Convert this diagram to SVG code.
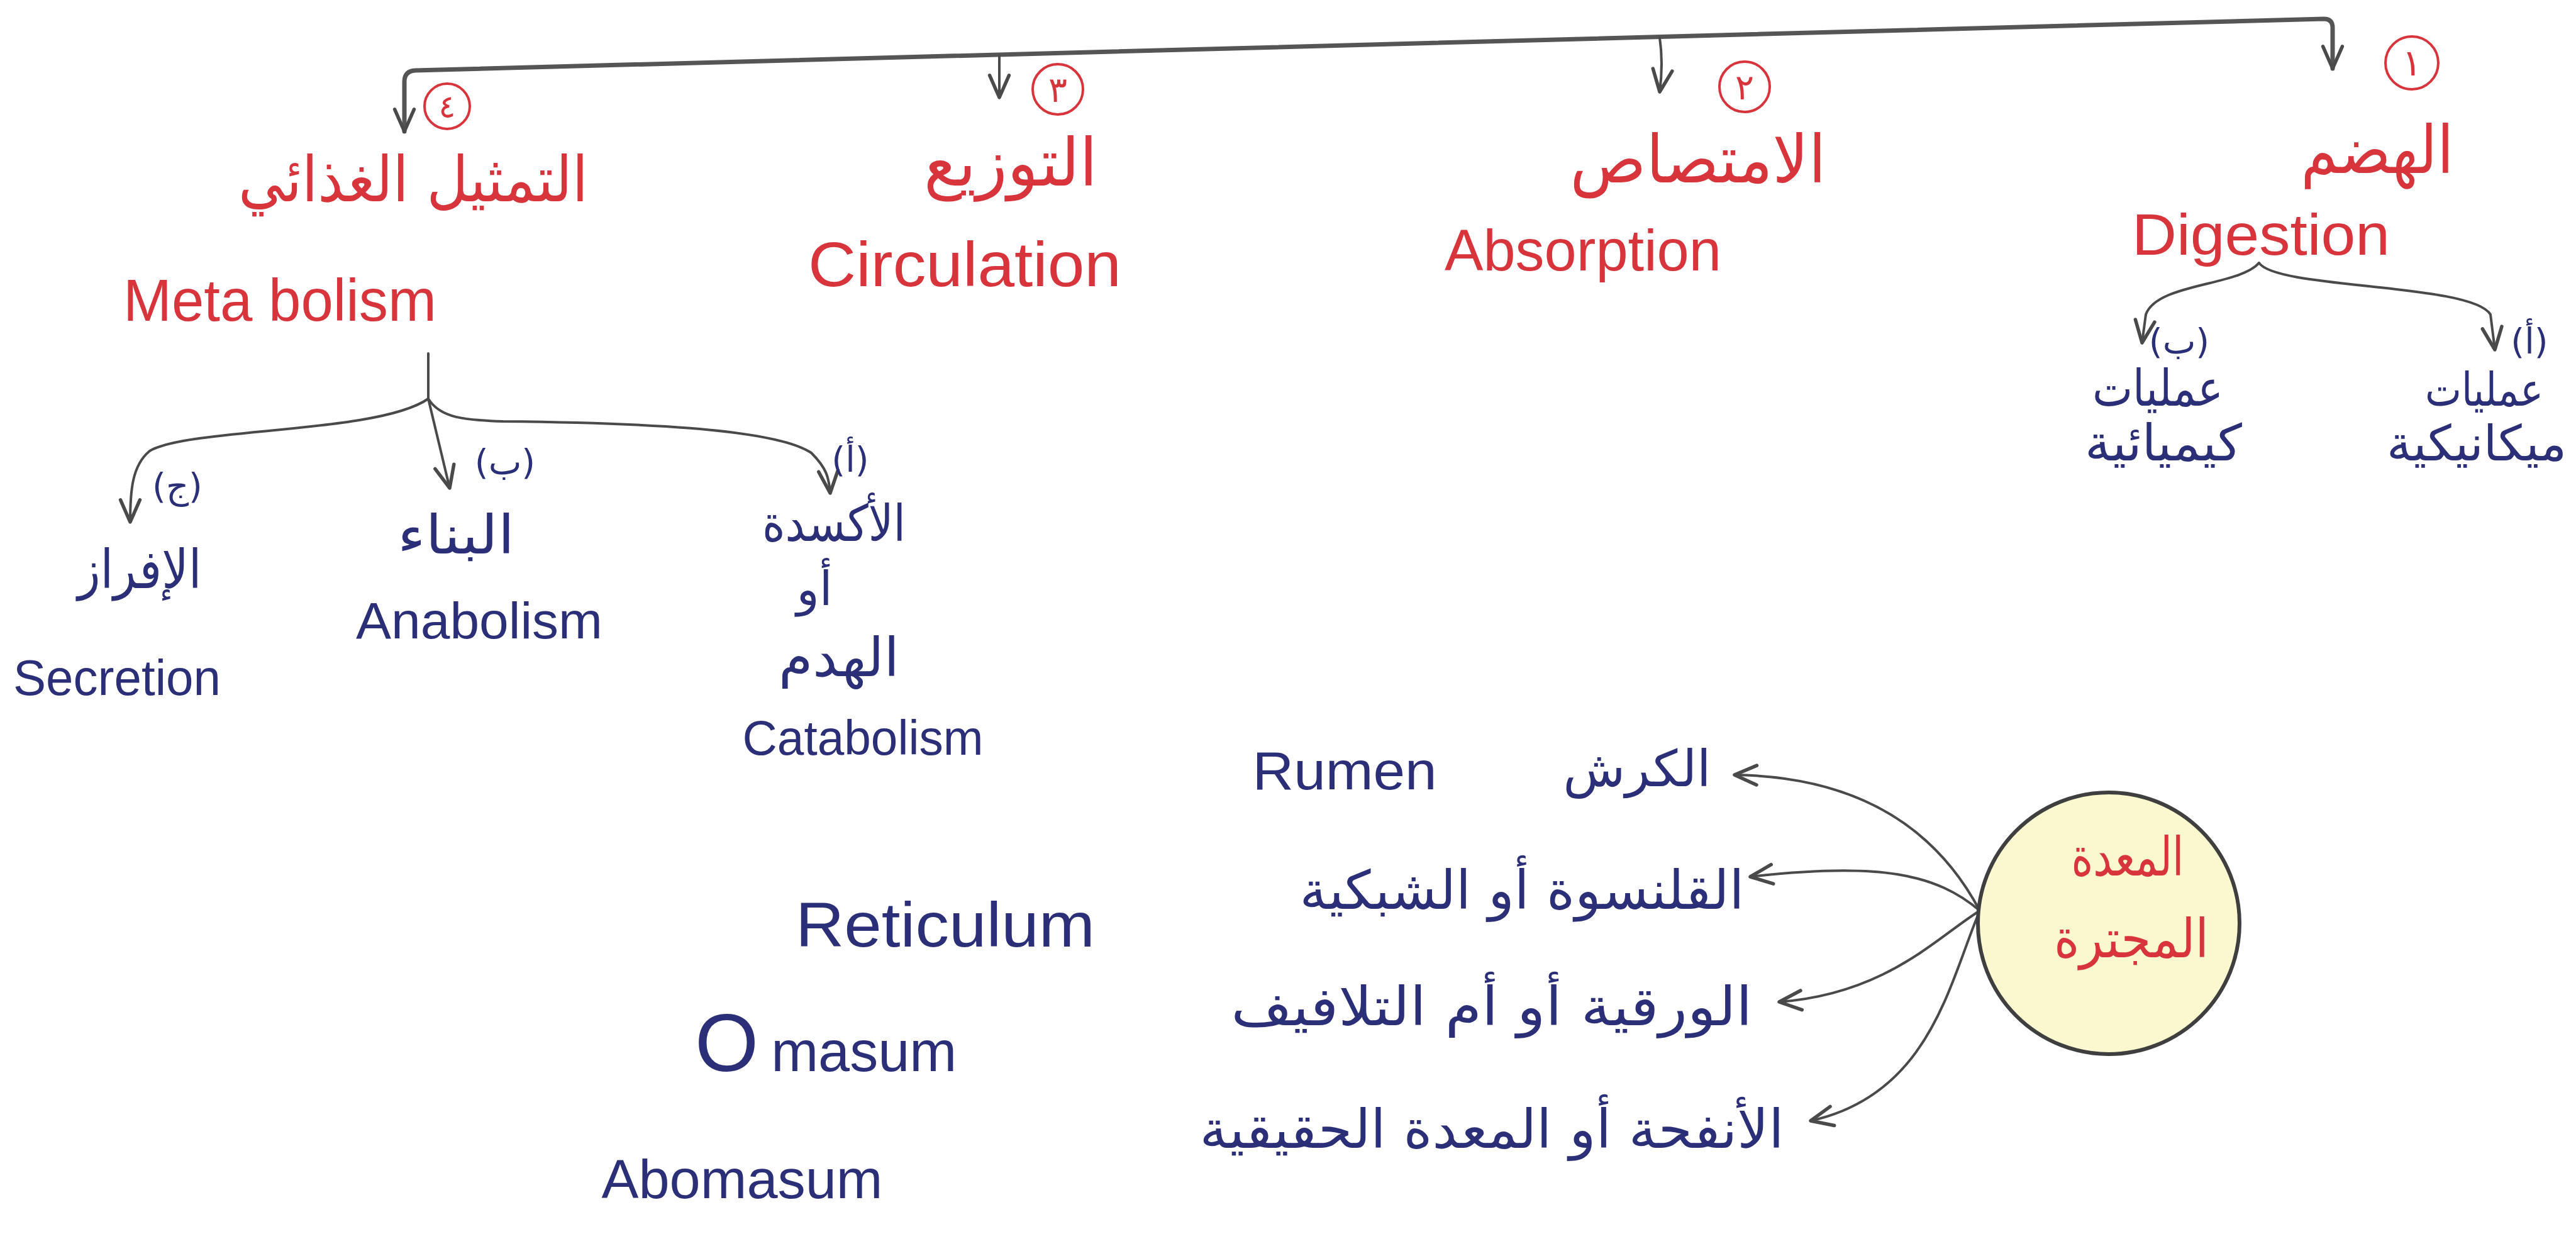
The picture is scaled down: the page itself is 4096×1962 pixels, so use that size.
<svg xmlns="http://www.w3.org/2000/svg" width="4096" height="1962" viewBox="0 0 4096 1962">
<style>
.bg{fill:#ffffff}
.red{fill:#d8343c}
.blue{fill:#2b2f78}
.en{font-family:"Liberation Sans",Arial,sans-serif}
.ar{font-family:"DejaVu Sans","Noto Sans",sans-serif}
.conn{fill:none;stroke:#4a4a4a;stroke-width:4;stroke-linecap:round;stroke-linejoin:round}
.thick{stroke-width:7;stroke:#555555}
.num{fill:none;stroke:#d8343c;stroke-width:4}
</style>
<defs>
<marker id="arr" markerUnits="userSpaceOnUse" markerWidth="44" markerHeight="44" viewBox="0 0 20 20" refX="18" refY="10" orient="auto-start-reverse">
<path d="M2,3 L18,10 L2,17" fill="none" stroke="#4a4a4a" stroke-width="2.5" stroke-linecap="round" stroke-linejoin="round"/>
</marker>
</defs>
<rect class="bg" x="0" y="0" width="4096" height="1962"/>

<g id="connectors">
<path class="conn thick" d="M3709,109 L3709,44 Q3709,30 3695,30 L660,112 Q643,113 643,130 L643,209" marker-start="url(#arr)" marker-end="url(#arr)"/>
<path class="conn" d="M1589,88 L1589,155" marker-end="url(#arr)"/>
<path class="conn" d="M2639,60 Q2645,100 2639,146" marker-end="url(#arr)"/>
<path class="conn" d="M3592,418 C3560,455 3430,450 3412,500 L3406,545" marker-end="url(#arr)"/>
<path class="conn" d="M3592,418 C3620,460 3930,450 3960,500 L3967,556" marker-end="url(#arr)"/>
<path class="conn" d="M681,562 L681,634"/>
<path class="conn" d="M681,634 C600,690 300,680 238,717 C210,740 207,780 207,830" marker-end="url(#arr)"/>
<path class="conn" d="M681,634 L715,776" marker-end="url(#arr)"/>
<path class="conn" d="M681,634 C700,665 740,668 800,670 C1000,672 1230,680 1290,720 C1315,745 1318,760 1320,784" marker-end="url(#arr)"/>
<path class="conn" d="M3148,1448 C3080,1320 2960,1235 2758,1232" marker-end="url(#arr)"/>
<path class="conn" d="M3148,1448 C3080,1390 2990,1370 2783,1394" marker-end="url(#arr)"/>
<path class="conn" d="M3148,1448 C3080,1490 3000,1580 2829,1593" marker-end="url(#arr)"/>
<path class="conn" d="M3148,1448 C3100,1560 3070,1740 2879,1782" marker-end="url(#arr)"/>
</g>

<g id="n1-digestion">
<circle class="num" cx="3835" cy="100" r="42"/>
<text class="ar red" x="3835" y="120" font-size="58" text-anchor="middle">١</text>
<text class="ar red" x="3780" y="275" font-size="105" text-anchor="middle" textLength="243" lengthAdjust="spacingAndGlyphs">الهضم</text>
<text class="en red" x="3595" y="405" font-size="92" text-anchor="middle" textLength="410" lengthAdjust="spacingAndGlyphs">Digestion</text>
</g>

<g id="n2-absorption">
<circle class="num" cx="2774" cy="138" r="40"/>
<text class="ar red" x="2774" y="158" font-size="56" text-anchor="middle">٢</text>
<text class="ar red" x="2700" y="290" font-size="105" text-anchor="middle" textLength="407" lengthAdjust="spacingAndGlyphs">الامتصاص</text>
<text class="en red" x="2517" y="430" font-size="92" text-anchor="middle" textLength="440" lengthAdjust="spacingAndGlyphs">Absorption</text>
</g>

<g id="n3-circulation">
<circle class="num" cx="1682" cy="142" r="40"/>
<text class="ar red" x="1682" y="162" font-size="56" text-anchor="middle">٣</text>
<text class="ar red" x="1607" y="295" font-size="105" text-anchor="middle" textLength="276" lengthAdjust="spacingAndGlyphs">التوزيع</text>
<text class="en red" x="1534" y="455" font-size="100" text-anchor="middle" textLength="498" lengthAdjust="spacingAndGlyphs">Circulation</text>
</g>

<g id="n4-metabolism">
<circle class="num" cx="711" cy="169" r="36"/>
<text class="ar red" x="711" y="187" font-size="50" text-anchor="middle">٤</text>
<text class="ar red" x="657" y="320" font-size="100" text-anchor="middle" textLength="556" lengthAdjust="spacingAndGlyphs">التمثيل الغذائي</text>
<text class="en red" x="445" y="510" font-size="94" text-anchor="middle" textLength="498" lengthAdjust="spacingAndGlyphs">Meta bolism</text>
</g>

<g id="d-chemical">
<text class="ar blue" x="3465" y="562" font-size="56" text-anchor="middle">(ب)</text>
<text class="ar blue" x="3431" y="645" font-size="80" text-anchor="middle" textLength="208" lengthAdjust="spacingAndGlyphs">عمليات</text>
<text class="ar blue" x="3440" y="732" font-size="80" text-anchor="middle" textLength="250" lengthAdjust="spacingAndGlyphs">كيميائية</text>
</g>

<g id="d-mechanical">
<text class="ar blue" x="4022" y="562" font-size="56" text-anchor="middle">(أ)</text>
<text class="ar blue" x="3950" y="645" font-size="74" text-anchor="middle" textLength="188" lengthAdjust="spacingAndGlyphs">عمليات</text>
<text class="ar blue" x="3938" y="732" font-size="78" text-anchor="middle" textLength="286" lengthAdjust="spacingAndGlyphs">ميكانيكية</text>
</g>

<g id="m-secretion">
<text class="ar blue" x="282" y="792" font-size="56" text-anchor="middle">(ج)</text>
<text class="ar blue" x="222" y="935" font-size="85" text-anchor="middle" textLength="197" lengthAdjust="spacingAndGlyphs">الإفراز</text>
<text class="en blue" x="186" y="1105" font-size="80" text-anchor="middle" textLength="330" lengthAdjust="spacingAndGlyphs">Secretion</text>
</g>

<g id="m-anabolism">
<text class="ar blue" x="803" y="754" font-size="56" text-anchor="middle">(ب)</text>
<text class="ar blue" x="725" y="880" font-size="85" text-anchor="middle" textLength="186" lengthAdjust="spacingAndGlyphs">البناء</text>
<text class="en blue" x="762" y="1015" font-size="82" text-anchor="middle" textLength="392" lengthAdjust="spacingAndGlyphs">Anabolism</text>
</g>

<g id="m-catabolism">
<text class="ar blue" x="1352" y="750" font-size="56" text-anchor="middle">(أ)</text>
<text class="ar blue" x="1326" y="860" font-size="80" text-anchor="middle" textLength="228" lengthAdjust="spacingAndGlyphs">الأكسدة</text>
<text class="ar blue" x="1295" y="962" font-size="75" text-anchor="middle">أو</text>
<text class="ar blue" x="1334" y="1075" font-size="85" text-anchor="middle" textLength="192" lengthAdjust="spacingAndGlyphs">الهدم</text>
<text class="en blue" x="1372" y="1200" font-size="78" text-anchor="middle" textLength="383" lengthAdjust="spacingAndGlyphs">Catabolism</text>
</g>

<g id="s-stomach">
<circle cx="3353" cy="1468" r="208" fill="#fbf7cf" stroke="#3f3f3f" stroke-width="6"/>
<text class="ar red" x="3383" y="1392" font-size="85" text-anchor="middle" textLength="179" lengthAdjust="spacingAndGlyphs">المعدة</text>
<text class="ar red" x="3389" y="1522" font-size="85" text-anchor="middle" textLength="246" lengthAdjust="spacingAndGlyphs">المجترة</text>
</g>

<g id="s-rumen">
<text class="ar blue" x="2603" y="1250" font-size="80" text-anchor="middle" textLength="235" lengthAdjust="spacingAndGlyphs">الكرش</text>
<text class="en blue" x="2138" y="1255" font-size="86" text-anchor="middle" textLength="293" lengthAdjust="spacingAndGlyphs">Rumen</text>
</g>

<g id="s-reticulum">
<text class="ar blue" x="2420" y="1445" font-size="85" text-anchor="middle" textLength="707" lengthAdjust="spacingAndGlyphs">القلنسوة أو الشبكية</text>
<text class="en blue" x="1503" y="1505" font-size="100" text-anchor="middle" textLength="476" lengthAdjust="spacingAndGlyphs">Reticulum</text>
</g>

<g id="s-omasum">
<text class="ar blue" x="2372" y="1630" font-size="85" text-anchor="middle" textLength="829" lengthAdjust="spacingAndGlyphs">الورقية أو أم التلافيف</text>
<text class="en blue" x="1105" y="1703" font-size="90"><tspan font-size="130">O</tspan><tspan dx="20">masum</tspan></text>
</g>

<g id="s-abomasum">
<text class="ar blue" x="2372" y="1825" font-size="85" text-anchor="middle" textLength="929" lengthAdjust="spacingAndGlyphs">الأنفحة أو المعدة الحقيقية</text>
<text class="en blue" x="1180" y="1905" font-size="88" text-anchor="middle" textLength="447" lengthAdjust="spacingAndGlyphs">Abomasum</text>
</g>
</svg>
